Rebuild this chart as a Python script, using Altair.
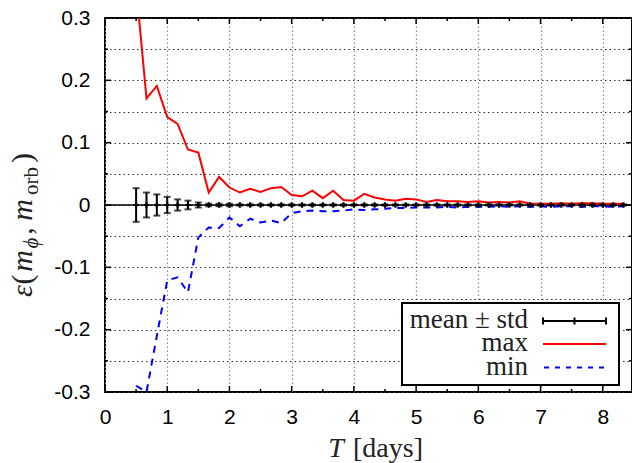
import altair as alt
import pandas as pd

# ---------------- data ----------------
T = [0.5, 0.667, 0.833, 1.0, 1.167, 1.333, 1.5, 1.667, 1.833, 2.0,
     2.167, 2.333, 2.5, 2.667, 2.833, 3.0, 3.167, 3.333, 3.5, 3.667,
     3.833, 4.0, 4.167, 4.333, 4.5, 4.667, 4.833, 5.0, 5.167, 5.333,
     5.5, 5.667, 5.833, 6.0, 6.167, 6.333, 6.5, 6.667, 6.833, 7.0,
     7.167, 7.333, 7.5, 7.667, 7.833, 8.0, 8.167, 8.333]

max_vals = [0.35, 0.171, 0.191, 0.141, 0.130, 0.089, 0.084, 0.020, 0.045, 0.028,
            0.020, 0.026, 0.021, 0.027, 0.029, 0.016, 0.014, 0.023, 0.011, 0.023,
            0.008, 0.007, 0.018, 0.012, 0.009, 0.007, 0.010, 0.009, 0.005, 0.008,
            0.006, 0.006, 0.005, 0.006, 0.004, 0.005, 0.004, 0.006, 0.002, 0.002,
            0.002, 0.003, 0.002, 0.003, 0.003, 0.002, 0.002, 0.002]

min_vals = [-0.290, -0.300, -0.210, -0.121, -0.116, -0.140, -0.052, -0.036, -0.037, -0.020,
            -0.034, -0.022, -0.028, -0.025, -0.029, -0.013, -0.010, -0.009, -0.010, -0.010,
            -0.009, -0.007, -0.008, -0.007, -0.006, -0.005, -0.005, -0.004, -0.004, -0.004,
            -0.003, -0.004, -0.003, -0.003, -0.003, -0.002, -0.003, -0.002, -0.003, -0.002,
            -0.003, -0.002, -0.002, -0.003, -0.002, -0.002, -0.003, -0.002]

mean_vals = [0.0] * 48

std_vals = [0.027, 0.020, 0.017, 0.013, 0.009, 0.007, 0.004, 0.002, 0.002, 0.002,
            0.001, 0.001, 0.001, 0.001, 0.001, 0.001, 0.001, 0.001, 0.001, 0.001,
            0.001, 0.001, 0.001, 0.001, 0.001, 0.001, 0.001, 0.001, 0.001, 0.001,
            0.001, 0.001, 0.001, 0.001, 0.001, 0.001, 0.001, 0.001, 0.001, 0.001,
            0.001, 0.001, 0.001, 0.001, 0.001, 0.001, 0.001, 0.001]

x_major = [0, 1, 2, 3, 4, 5, 6, 7, 8]
x_minor = [0.5, 1.5, 2.5, 3.5, 4.5, 5.5, 6.5, 7.5]
y_major = [-0.3, -0.2, -0.1, 0.0, 0.1, 0.2, 0.3]
y_minor = [-0.25, -0.15, -0.05, 0.05, 0.15, 0.25]
y_grid = [-0.3, -0.25, -0.2, -0.15, -0.1, -0.05, 0.0, 0.05, 0.1, 0.15, 0.2, 0.25, 0.3]

legend_labels = ["mean \u00b1 std", "max", "min"]

# ---------------- layout ----------------
W, H = 527, 374
SERIF = "Liberation Serif"
SANS = "Liberation Sans"

df = pd.DataFrame({"T": T, "max": max_vals, "min": min_vals,
                   "mean": mean_vals, "std": std_vals})
one = pd.DataFrame({"k": [0]})

xs = alt.Scale(domain=[0, 8.47], nice=False, zero=False)
ys = alt.Scale(domain=[-0.3, 0.3], nice=False, zero=False)

xaxis = alt.Axis(values=x_major, grid=True, gridColor="#8c8c8c", gridDash=[1.5, 2.5],
                 gridWidth=1.2, ticks=False, domain=False, labelFont=SANS,
                 labelFontSize=21, labelColor="black", labelPadding=14,
                 labelFlush=False, labelOverlap=False, title=None)
yaxis = alt.Axis(values=y_grid, grid=True, gridColor="#333333", gridDash=[1.5, 3],
                 gridWidth=1.2, ticks=False, domain=False, labelFont=SANS,
                 labelFontSize=21, labelColor="black", labelPadding=15,
                 labelFlush=False, labelOverlap=False, title=None,
                 labelExpr="abs(round(datum.value*20)) % 2 == 0 ? "
                           "((datum.value < -0.001 ? '-' : '') + format(abs(datum.value), '.1~f')) : ''")

X = alt.X("T:Q", scale=xs, axis=xaxis)

zero_line = alt.Chart(one).mark_rule(color="black", strokeWidth=1.5).encode(
    y=alt.datum(0, scale=ys, axis=yaxis))

red = alt.Chart(df).mark_line(color="#ff0000", strokeWidth=2, clip=True).encode(
    x=X, y=alt.Y("max:Q", scale=ys, axis=yaxis))
blue = alt.Chart(df).mark_line(color="#0000ff", strokeWidth=2, strokeDash=[7, 6],
                               clip=True).encode(
    x=X, y=alt.Y("min:Q", scale=ys, axis=yaxis))

eb = alt.Chart(df).transform_calculate(
    lo="datum.mean - datum.std", hi="datum.mean + datum.std")
err_rule = eb.mark_rule(color="black", strokeWidth=2).encode(
    x=X, y=alt.Y("lo:Q", scale=ys, axis=yaxis), y2="hi:Q")
cap_lo = eb.mark_tick(color="black", orient="horizontal", size=7, thickness=2).encode(
    x=X, y=alt.Y("lo:Q", scale=ys, axis=yaxis))
cap_hi = eb.mark_tick(color="black", orient="horizontal", size=7, thickness=2).encode(
    x=X, y=alt.Y("hi:Q", scale=ys, axis=yaxis))
pts = alt.Chart(df).mark_point(shape="cross", filled=True, size=28, color="black",
                               opacity=1).encode(
    x=X, y=alt.Y("mean:Q", scale=ys, axis=yaxis))

# inward ticks
def xticks(vals, length):
    d = pd.DataFrame({"v": vals})
    xx = alt.X("v:Q", scale=xs, axis=xaxis)
    bot = alt.Chart(d).mark_rule(color="black", strokeWidth=1.5).encode(
        x=xx, y=alt.value(H), y2=alt.value(H - length))
    top = alt.Chart(d).mark_rule(color="black", strokeWidth=1.5).encode(
        x=xx, y=alt.value(0), y2=alt.value(length))
    return [bot, top]

def yticks(vals, length):
    d = pd.DataFrame({"v": vals})
    yy = alt.Y("v:Q", scale=ys, axis=yaxis)
    left = alt.Chart(d).mark_rule(color="black", strokeWidth=1.5).encode(
        y=yy, x=alt.value(0), x2=alt.value(length))
    right = alt.Chart(d).mark_rule(color="black", strokeWidth=1.5).encode(
        y=yy, x=alt.value(W), x2=alt.value(W - length))
    return [left, right]

ticks = xticks(x_major, 6) + xticks(x_minor, 3) + yticks(y_major, 6) + yticks(y_minor, 3)

# legend
def txt(s, x, y, size, italic=False, align="center", font=SERIF, angle=0):
    kw = dict(text=s, font=font, fontSize=size, color="#222222", align=align,
              baseline="alphabetic")
    if italic:
        kw["fontStyle"] = "italic"
    if angle:
        kw["angle"] = angle
    return alt.Chart(one).mark_text(**kw).encode(x=alt.value(x), y=alt.value(y))

leg_box = alt.Chart(one).mark_rect(fill="white", stroke="black", strokeWidth=2).encode(
    x=alt.value(297), x2=alt.value(514), y=alt.value(285), y2=alt.value(367))
LX1, LX2, LXM = 438, 501, 469.5
leg_eb = alt.Chart(one).mark_rule(color="black", strokeWidth=2).encode(
    x=alt.value(LX1), x2=alt.value(LX2), y=alt.value(303))
leg_caps = [alt.Chart(one).mark_rule(color="black", strokeWidth=2).encode(
    x=alt.value(cx), y=alt.value(299.5), y2=alt.value(306.5)) for cx in (LX1, LXM, LX2)]
leg_red = alt.Chart(one).mark_rule(color="#ff0000", strokeWidth=2).encode(
    x=alt.value(LX1), x2=alt.value(LX2), y=alt.value(326))
leg_blue = alt.Chart(one).mark_rule(color="#0000ff", strokeWidth=2, strokeDash=[5, 6]).encode(
    x=alt.value(LX1 + 1), x2=alt.value(LX2), y=alt.value(349.5))
leg_txt = [txt(legend_labels[0], 423, 310, 27, align="right"),
           txt(legend_labels[1], 423, 333, 27, align="right"),
           txt(legend_labels[2], 423, 357, 27, align="right")]

# axis titles built from text pieces (with subscripts)
YB, YS = -73.5, -67.5
ytitle = [
    txt("\u03b5", YB, 273, 30, italic=True, angle=270),
    txt("(", YB, 261.5, 30, angle=270),
    txt("m", YB, 243, 30, italic=True, angle=270),
    txt("\u03d5", YS, 225, 21, italic=True, angle=270),
    txt(",", YB, 213, 30, angle=270),
    txt("m", YB, 192, 30, italic=True, angle=270),
    txt("orb", YS, 163, 21, angle=270),
    txt(")", YB, 140, 30, angle=270),
]
xtitle = [
    txt("T", 231, 439, 28, italic=True),
    txt("[days]", 283, 439, 28),
]

layers = [zero_line] + ticks + [red, blue, err_rule, cap_lo, cap_hi, pts,
                                leg_box, leg_eb] + leg_caps + [leg_red, leg_blue] + \
         leg_txt + ytitle + xtitle

chart = alt.layer(*layers).properties(
    width=W, height=H,
    autosize=alt.AutoSizeParams(type="none"),
    padding={"left": 105, "top": 18, "right": 0, "bottom": 71},
    background="white",
).configure_view(stroke="black", strokeWidth=2)

chart.save("out.html", embed_options={"renderer": "svg", "actions": False})
